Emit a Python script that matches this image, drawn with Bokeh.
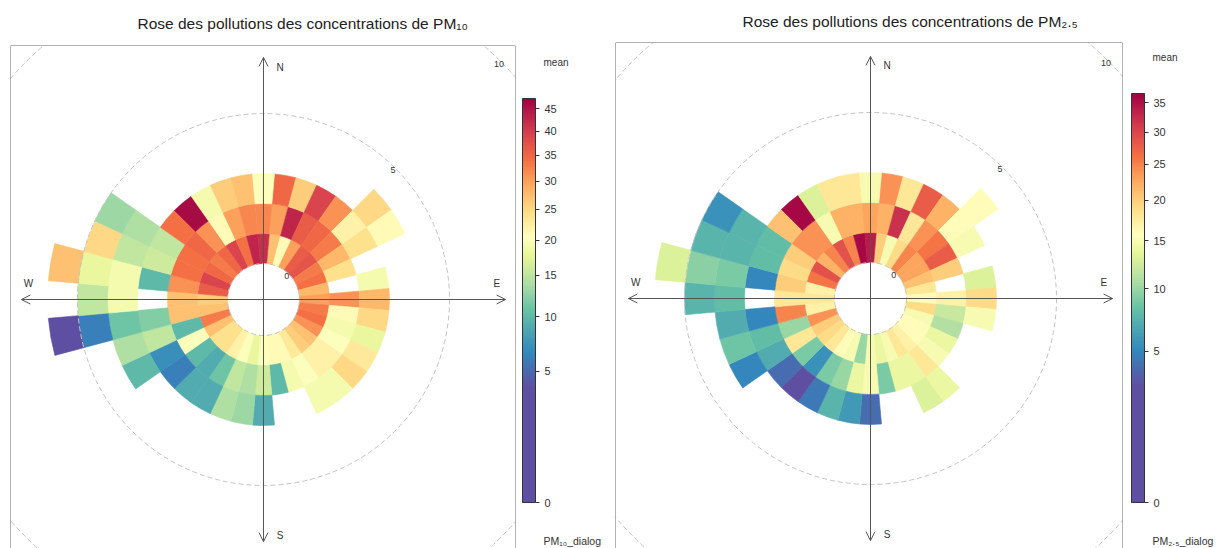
import math
import numpy as np
from bokeh.plotting import figure
from bokeh.layouts import row
from bokeh.models import (ColumnDataSource, LinearColorMapper, ColorBar, FixedTicker,
                          CustomJSTickFormatter, Label, Arrow, OpenHead, Span, Range1d)
from bokeh.transform import transform
from bokeh.embed import file_html
from bokeh.resources import INLINE

N = None
# wind direction sectors (degrees, clockwise from north)
directions = [10, 20, 30, 40, 50, 60, 70, 80, 90, 100, 110, 120, 130, 140, 150, 160, 170, 180,
              190, 200, 210, 220, 230, 240, 250, 260, 270, 280, 290, 300, 310, 320, 330, 340, 350, 360]

# PM10 mean concentration per wind-speed bin (0-1, 1-2, ... m/s)
pm10_ws1 = [27, 21, 30, 36, 37, 33, 34, 28, 30, 33, 34, 31, 27, 26, 23, 21, 21, 20,
            18, 20, 22, 24, 24, 27, 33, 27, 26, 36, 39, 35, 33, 35, 39, 34, 43, 42]
pm10_ws2 = [30, 43, 36, 35, 33, 28, 24, N, 31, 21, 19, 20, 22, 22, 20, 19, 10, 16,
            14, 15, 11, 9, 10, 20, 10, 27, 27, 31, 34, 34, 35, 31, 21, 30, 32, 32]
pm10_ws3 = [35, 26, 39, 31, 22, 24, N, 19, 28, 25, 18, 23, 25, 19, 19, N, N, 9,
            13, 14, 9, 9, 6, 7, 15, 12, N, 10, 16, 15, 34, 46, 19, 26, 27, 20]
pm10_ws4 = [N, N, N, N, 25, 21, N, N, N, N, N, N, N, N, N, N, N, N,
            N, N, N, N, N, 10, 14, 11, 19, 19, 15, 14, N, N, N, N, N, N]
pm10_ws5 = [N, N, N, N, N, N, N, N, N, N, N, N, N, N, N, N, N, N,
            N, N, N, N, N, N, N, 6, 15, 18, 25, 13, N, N, N, N, N, N]
pm10_ws6 = [N, N, N, N, N, N, N, N, N, N, N, N, N, N, N, N, N, N,
            N, N, N, N, N, N, N, 3, N, 27, N, N, N, N, N, N, N, N]

# PM2.5 mean concentration per wind-speed bin
pm25_ws1 = [20, 15, 19, 25, 23, 23, 21, 18, 16, 19, 15, 16, 16, 17, 18, 15, 14, 15,
            10, 15, 16, 18, 19, 20, 24, 17, 18, 17, 26, 29, 22, 25, 29, 25, 36, 34]
pm25_ws2 = [22, 32, 18, 24, 26, 28, 20, N, 17, 12, 11, 14, 15, 18, 14, 14, 9, 15,
            14, 10, 9, 5.5, 9, 18, 10, 25, 18, 20, 19, 20, 24, 24, 15, 22, 22, 23]
pm25_ws3 = [24, 18, 28, 22, 16, 15, N, 13, 19, 15, N, N, N, 14, 13, N, N, 4,
            6, 7.5, 4.5, 2.5, 4, 7, 8, 5, N, 5, 8, 8, 21, 36, 13, 18, 18, 15]
pm25_ws4 = [N, N, N, N, 16, N, N, N, N, N, N, N, N, N, N, N, N, N,
            N, N, N, N, N, 5, 8.5, 7, 8, 9, 7.5, 7.5, N, N, N, N, N, N]
pm25_ws5 = [N, N, N, N, N, N, N, N, N, N, N, N, N, N, N, N, N, N,
            N, N, N, N, N, N, N, N, 7.5, 9.5, 7.5, 5.5, N, N, N, N, N, N]
pm25_ws6 = [N, N, N, N, N, N, N, N, N, N, N, N, N, N, N, N, N, N,
            N, N, N, N, N, N, N, N, N, 13, N, N, N, N, N, N, N, N]

pm10_max = 47.4
pm25_max = 36.6
pm10_ticks = [0, 5, 10, 15, 20, 25, 30, 35, 40, 45]
pm25_ticks = [0, 5, 10, 15, 20, 25, 30, 35]

FONT = "Liberation Sans"
OFF = 1.2          # radius of the central hole, in m/s units
TXT = "#333333"
H = 548

STOPS = [(0.00, "#5E4FA2"), (0.08, "#5E4FA2"), (0.137, "#3288BD"), (0.225, "#66C2A5"),
         (0.29, "#ABDDA4"), (0.369, "#E6F598"), (0.43, "#FFFFBF"), (0.51, "#FEE08B"),
         (0.61, "#FDAE61"), (0.72, "#F46D43"), (0.84, "#D53E4F"), (1.00, "#9E0142")]


def make_palette(vmax, n=256):
    fs = [s[0] for s in STOPS]
    rgb = np.array([[int(c[i:i + 2], 16) for i in (1, 3, 5)] for _, c in STOPS], dtype=float)
    smax = math.sqrt(vmax)
    out = []
    for i in range(n):
        s = (i + 0.5) / n * smax
        f = s * s / vmax
        col = [int(round(np.interp(f, fs, rgb[:, k]))) for k in range(3)]
        out.append("#%02x%02x%02x" % tuple(col))
    return out


def rose(bins, mapper, title, xr, yr, b_left, b_top, frame_w, frame_h, standoff):
    data = dict(inner=[], outer=[], start=[], end=[], s=[])
    for k, vals in enumerate(bins):
        for d, v in zip(directions, vals):
            if v is None:
                continue
            data["inner"].append(OFF + k)
            data["outer"].append(OFF + k + 1)
            data["start"].append(math.radians(90 - d - 5))
            data["end"].append(math.radians(90 - d + 5))
            data["s"].append(math.sqrt(v))
    src = ColumnDataSource(data)

    p = figure(frame_width=frame_w, frame_height=frame_h,
               x_range=Range1d(*xr), y_range=Range1d(*yr),
               x_axis_type=None, y_axis_type=None, output_backend="svg",
               toolbar_location=None, min_border_left=b_left, min_border_right=1,
               min_border_top=b_top, min_border_bottom=0, frame_align=False)
    p.outline_line_color = None
    p.background_fill_color = "white"
    p.border_fill_color = "white"
    p.title.text = title
    p.title.align = "left"
    p.title.offset = 127
    p.title.vertical_align = "middle"
    p.title.text_font = FONT
    p.title.text_font_size = "15.5px"
    p.title.text_font_style = "normal"
    p.title.text_color = "#222222"
    p.title.standoff = standoff

    p.annular_wedge(x=0, y=0, inner_radius="inner", outer_radius="outer",
                    start_angle="start", end_angle="end",
                    fill_color=transform("s", mapper), line_color=transform("s", mapper),
                    line_width=0.6, source=src)
    p.circle(x=[0, 0, 0], y=[0, 0, 0], radius=[OFF, OFF + 5, OFF + 10],
             fill_color=None, line_color="#C4C4C4", line_dash="5 3", line_width=1)

    L = 8.07
    for xs, ys, xe, ye in [(0, -L, 0, L), (-L, 0, L, 0)]:
        p.add_layout(Arrow(x_start=xs, y_start=ys, x_end=xe, y_end=ye,
                           start=OpenHead(size=9, line_color="#555555", line_width=1),
                           end=OpenHead(size=9, line_color="#555555", line_width=1),
                           line_color="#555555", line_width=1))

    for loc, dim in [(xr[0], "height"), (xr[1], "height"), (yr[1], "width")]:
        p.add_layout(Span(location=loc, dimension=dim, line_color="#666666", line_width=1))

    for txt, x, y in [("N", 0.55, 7.75), ("S", 0.55, -7.88), ("W", -7.83, 0.53), ("E", 7.78, 0.53)]:
        p.add_layout(Label(x=x, y=y, text=txt, text_font=FONT, text_font_size="10px",
                           text_color=TXT, text_align="center", text_baseline="middle"))
    for ws in (0, 5, 10):
        r = (OFF + ws - 0.1) / math.sqrt(2)
        p.add_layout(Label(x=r, y=r, text=str(ws), text_font=FONT, text_font_size="9px",
                           text_color=TXT, text_align="center", text_baseline="middle"))
    return p


def colour_key(mapper, ticks, label, width, cb_x, cb_h, mean_y):
    p = figure(width=width, height=H, x_range=Range1d(0, width), y_range=Range1d(0, H),
               x_axis_type=None, y_axis_type=None, output_backend="svg",
               toolbar_location=None, min_border=0, frame_align=False)
    p.title = None
    p.outline_line_color = None
    p.background_fill_color = "white"
    p.border_fill_color = "white"
    cb = ColorBar(color_mapper=mapper, ticker=FixedTicker(ticks=[math.sqrt(t) for t in ticks]),
                  formatter=CustomJSTickFormatter(code="return String(Math.round(tick*tick));"),
                  location=(cb_x, 46), width=13, height=cb_h, padding=0, margin=0,
                  major_label_text_font=FONT, major_label_text_font_size="11px",
                  major_label_text_color=TXT, major_tick_out=4, major_tick_in=0,
                  major_tick_line_color="#333333", minor_tick_line_color=None,
                  label_standoff=5, bar_line_color="#333333", bar_line_width=1,
                  background_fill_color=None, border_line_color=None)
    p.add_layout(cb)
    p.add_layout(Label(x=cb_x + 21, y=mean_y, x_units="screen", y_units="screen", text="mean",
                       text_font=FONT, text_font_size="10px", text_color=TXT,
                       text_baseline="middle"))
    p.add_layout(Label(x=cb_x + 21, y=8, x_units="screen", y_units="screen", text=label,
                       text_font=FONT, text_font_size="10.5px", text_color=TXT,
                       text_baseline="middle"))
    return p


m10 = LinearColorMapper(palette=make_palette(pm10_max), low=0, high=math.sqrt(pm10_max))
m25 = LinearColorMapper(palette=make_palette(pm25_max), low=0, high=math.sqrt(pm25_max))

p1 = rose([pm10_ws1, pm10_ws2, pm10_ws3, pm10_ws4, pm10_ws5, pm10_ws6], m10,
          "Rose des pollutions des concentrations de PM₁₀",
          xr=(-8.433, 8.4), yr=(-8.3, 8.467), b_left=10, b_top=45, frame_w=505, frame_h=503,
          standoff=26)
k1 = colour_key(m10, pm10_ticks, "PM₁₀_dialog", width=96, cb_x=6, cb_h=404, mean_y=486)
p2 = rose([pm25_ws1, pm25_ws2, pm25_ws3, pm25_ws4, pm25_ws5, pm25_ws6], m25,
          "Rose des pollutions des concentrations de PM₂.₅",
          xr=(-8.5, 8.4), yr=(-8.333, 8.533), b_left=3, b_top=42, frame_w=507, frame_h=506,
          standoff=23)
k2 = colour_key(m25, pm25_ticks, "PM₂.₅_dialog", width=93, cb_x=8, cb_h=409, mean_y=491)

layout = row(p1, k1, p2, k2)
open("out.html", "w").write(file_html(layout, INLINE))
